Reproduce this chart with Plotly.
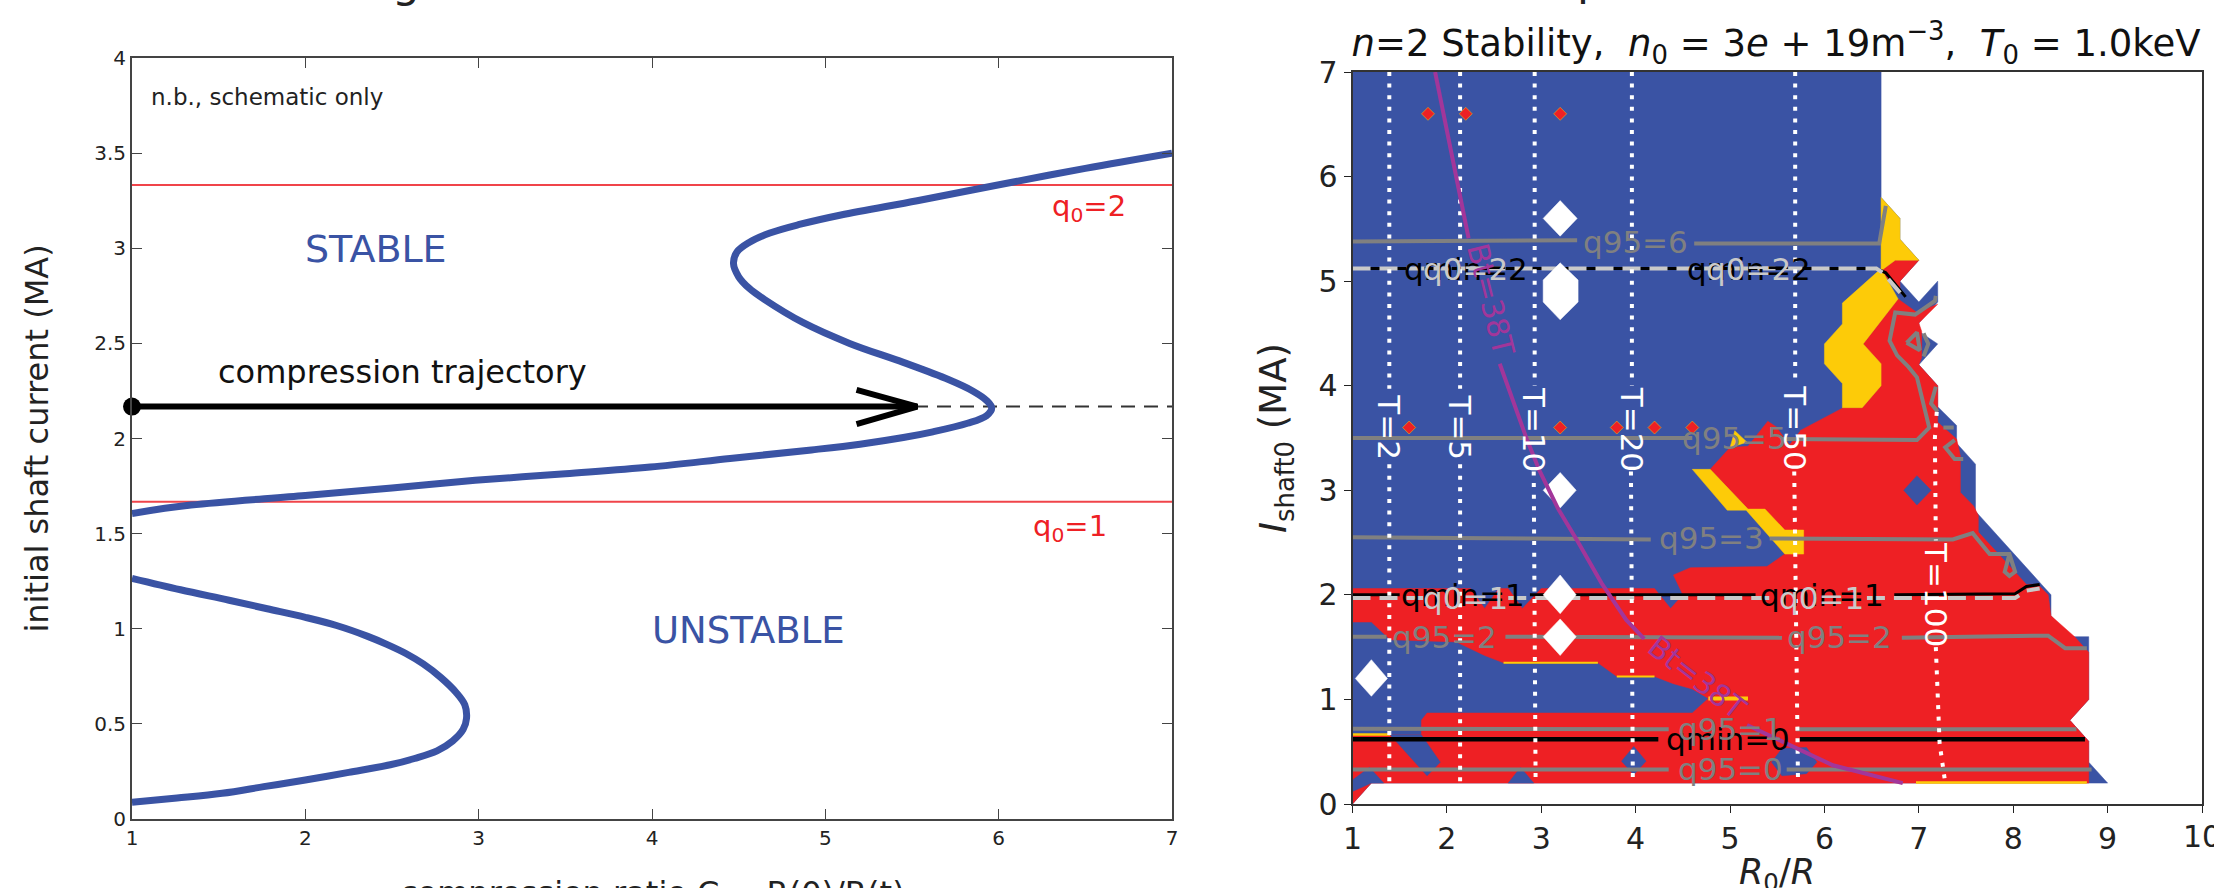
import plotly.graph_objects as go

# ---------- left panel data ----------
s_curve_x = [7,6.5,5.98,5.53,5.09,4.85,4.68,4.56,4.49,4.47,4.50,4.56,4.65,4.87,5.14,5.45,5.71,5.85,5.93,5.96,5.93,5.82,5.62,5.45,5.2,4.92,4.45,3.99,3.5,2.98,2.5,2.0,1.34,1]
s_curve_y = [3.5,3.42,3.33,3.25,3.175,3.125,3.08,3.03,2.98,2.92,2.85,2.79,2.73,2.61,2.5,2.4,2.31,2.25,2.2,2.16,2.12,2.08,2.035,2.005,1.97,1.94,1.895,1.85,1.815,1.78,1.74,1.70,1.65,1.606]
low_curve_x = [1,1.28,1.56,1.78,2.0,2.18,2.36,2.47,2.58,2.68,2.78,2.87,2.92,2.93,2.91,2.85,2.76,2.63,2.49,2.25,2.0,1.76,1.52,1.26,1]
low_curve_y = [1.265,1.205,1.15,1.105,1.06,1.017,.96,.918,.87,.815,.745,.665,.6,.53,.47,.41,.358,.318,.285,.245,.205,.17,.135,.11,.088]
q0_levels = [3.333, 1.667]
traj_y = 2.168
traj_end = 5.53
head_x = [5.18,5.53,5.18]
head_y = [2.256,2.168,2.075]

# ---------- right panel data ----------
domain_x = [1,6.6,6.6,6.8,6.8,7.0,6.8,7.0,7.2,7.2,7.0,7.0,7.2,7.0,7.2,7.2,7.4,7.4,7.6,7.6,8.3,8.4,8.4,8.6,8.8,8.8,8.6,8.8,8.8,9.0,1.2,1.0,1]
domain_y = [7,7,5.8,5.6,5.4,5.2,5.0,4.8,5.0,4.8,4.6,4.52,4.4,4.2,4.0,3.8,3.62,3.45,3.25,2.8,2.1,2.0,1.8,1.6,1.6,1.0,.8,.6,.4,.2,.2,0,7]

red_x = [1,2.25,2.4,2.55,2.65,2.8,3.0,4.2,4.37,4.5,4.4,4.58,5.39,5.58,5.19,4.79,5.0,5.19,5.4,5.5,5.63,5.74,6.2,6.4,6.6,6.6,6.41,6.78,6.98,7.2,7.0,7.03,7.03,7.0,7.2,7.2,7.2,7.4,7.44,7.44,7.58,7.63,7.63,8.14,8.26,8.37,8.4,8.65,8.8,8.8,8.6,8.8,8.8,1.2,1,1,1.73,1.73,1.79,4.6,4.77,4.6,4.4,4.2,3.8,3.6,2.6,2.4,2.1,1.4,1.2,1,1]
red_y = [2.06,2.06,1.87,2.06,2.06,1.87,2.06,2.06,1.87,2.0,2.19,2.26,2.27,2.39,2.82,3.2,3.41,3.42,3.66,3.6,3.44,3.57,3.79,3.79,4.0,4.21,4.4,4.83,4.7,4.78,4.6,4.52,4.27,4.2,4.0,3.8,3.65,3.49,3.33,2.98,2.85,2.76,2.6,2.1,2.1,2.0,1.8,1.6,1.45,1.0,.8,.6,.2,.2,0,.66,.66,.8,.87,.87,1.01,1.1,1.15,1.22,1.22,1.35,1.35,1.42,1.55,1.57,1.74,1.74,2.06]
red_patch_x = [6.6,6.75,7.0,6.8,6.8]
red_patch_y = [5.1,5.2,5.2,5.0,4.88]

yellow_top_x = [6.6,6.8,6.8,7.0,6.75,6.6,6.6]
yellow_top_y = [5.8,5.6,5.4,5.2,5.2,5.1,5.8]
yellow_mid_x = [6.6,6.78,6.41,6.6,6.6,6.4,6.19,6.19,6.0,6.0,6.19,6.19,6.6]
yellow_mid_y = [5.12,4.83,4.4,4.21,4.0,3.79,3.79,4.02,4.21,4.4,4.59,4.79,5.12]
yellow_low_x = [4.6,4.79,5.19,5.37,5.58,5.78,5.78,5.58,5.17,4.97,4.6]
yellow_low_y = [3.2,3.2,2.82,2.82,2.62,2.62,2.39,2.39,2.81,2.81,3.2]
yellow_tip_x = [5.0,5.18,5.05,5.0]
yellow_tip_y = [3.41,3.46,3.57,3.41]

blue_islands = [
    ([6.84,6.98,7.13,6.98,6.84],[3.0,3.14,3.0,2.86,3.0]),
    ([3.85,3.98,4.11,3.98,3.85],[.41,.55,.41,.28,.41]),
    ([5.44,5.55,5.81,5.92,5.81,5.55,5.44],[.40,.53,.54,.40,.29,.27,.40]),
    ([2.65,2.78,2.92,2.65],[.2,.35,.2,.2]),
    ([1.33,1.18,1.0,1.0,1.2,1.33],[.2,.35,.23,.12,.2,.2]),
    ([1.4,1.73,1.93,1.79,1.47,1.4],[.66,.66,.4,.27,.59,.66]),
    ([5.5,5.63,5.74,5.5],[3.6,3.44,3.57,3.6]),
]
holes = [
    ([3.02,3.2,3.38,3.2,3.02],[5.6,5.77,5.6,5.43,5.6]),
    ([3.02,3.2,3.39,3.39,3.2,3.02,3.02],[5.01,5.175,5.01,4.8,4.63,4.8,5.01]),
    ([3.02,3.2,3.37,3.2,3.02],[3.0,3.17,3.0,2.83,3.0]),
    ([3.02,3.2,3.37,3.2,3.02],[2.0,2.19,2.0,1.82,2.0]),
    ([3.02,3.2,3.37,3.2,3.02],[1.6,1.77,1.6,1.42,1.6]),
    ([1.03,1.2,1.37,1.2,1.03],[1.2,1.38,1.2,1.03,1.2]),
]
dot_x = [1.8,2.2,3.2,1.6,3.2,3.8,4.2,4.6]
dot_y = [6.6,6.6,6.6,3.6,3.6,3.6,3.6,3.6]

yellow_edges = [([2.6,3.6],[1.35,1.35],2),([3.8,4.2],[1.22,1.22],2),([4.77,5.19],[1.01,1.01],4),
                ([1,1.4],[.665,.665],2.5),([6.97,8.78],[.205,.205],2.5)]

grey_lines = [
    ([1,3.38,None,4.62,6.58,6.65],[5.38,5.39,None,5.36,5.36,5.72]),
    ([1,4.6,None,5.55,6.98,7.11,7.03,6.98,6.89,6.77,6.69,6.75,6.96,7.17,7.18],[3.5,3.5,None,3.49,3.48,3.6,3.92,4.08,4.18,4.29,4.43,4.7,4.68,4.81,4.86]),
    ([6.87,6.98,7.01,6.87],[4.41,4.51,4.34,4.41]),
    ([7.05,7.1,7.05],[4.5,4.4,4.28]),
    ([7.18,7.13,7.2],[3.99,3.83,3.75]),
    ([7.26,7.37],[3.6,3.6]),
    ([7.38,7.28,7.38,7.47],[3.48,3.41,3.3,3.3]),
    ([1,4.16,None,5.42,7.36,7.57,7.75,7.96,8.02,7.96,7.91,7.96],[2.55,2.53,None,2.54,2.53,2.59,2.39,2.39,2.22,2.18,2.22,2.39]),
    ([1,1.36,None,2.62,5.55,None,6.82,8.37,8.55,8.78],[1.6,1.6,None,1.6,1.59,None,1.59,1.61,1.49,1.49]),
    ([1,4.35,None,5.7,8.67],[.72,.716,None,.716,.716]),
    ([1,4.35,None,5.6,8.83],[.33,.33,None,.33,.33]),
]
black_lines = [
    ([1,4.24,None,5.74,8.76],[.62,.62,None,.62,.62],4.5),
    ([1,1.5,None,2.88,5.27,None,6.74,8.02,8.14,8.28],[2.0,2.0,None,2.0,2.0,None,2.0,2.01,2.08,2.1],3),
    ([1,6.55,6.65,6.86],[5.12,5.12,5.08,4.85],3),
]
q0_lines = [
    ([1,1.75,None,2.65,5.5,None,6.45,8.02,8.14,8.28],[1.97,1.97,None,1.97,1.97,None,1.97,1.97,2.04,2.06]),
    ([1,6.55,6.62,6.82],[5.12,5.12,5.08,4.87]),
]
t_lines = [
    ([1.39,1.39,None,1.39,1.39],[7,3.97,None,3.25,.2]),
    ([2.14,2.14,None,2.14,2.14],[7,3.97,None,3.25,.2]),
    ([2.93,2.93,None,2.92,2.94],[7,4.0,None,3.18,.2]),
    ([3.96,3.96,None,3.95,3.97],[7,4.0,None,3.18,.2]),
    ([5.69,5.69,None,5.68,5.72],[7,4.02,None,3.18,.2]),
    ([7.19,7.17,7.18,None,7.18,7.2,7.22,7.28],[3.75,3.5,2.52,None,1.5,1.02,.58,.2]),
]
bt_x = [1.875,2.23,None,2.56,2.85,2.98,3.18,3.38,3.64,3.9,4.09,None,5.18,5.74,6.09,6.83]
bt_y = [7,5.41,None,4.21,3.48,3.19,2.82,2.52,2.11,1.76,1.58,None,.755,.52,.37,.2]

grey_labels = [("q95=6",4.0,5.37),("q95=5",5.05,3.5),("q95=3",4.8,2.54),("q95=2",1.97,1.6),
               ("q95=2",6.16,1.6),("q95=1",5.0,.72),("q95=0",5.0,.33)]
black_labels = [("qmin=0",4.98,.62),("qmin=1",2.17,2.0),("qmin=1",5.97,2.0),("qmin=2",2.2,5.12),("qmin=2",5.2,5.12)]
q0_labels = [("q0=1",2.2,1.97),("q0=1",5.97,1.97),("q0=2",2.2,5.12),("q0=2",5.2,5.12)]
t_labels = [("T=2",1.39,3.6),("T=5",2.14,3.6),("T=10",2.93,3.58),("T=20",3.96,3.58),("T=50",5.69,3.6),("T=100",7.18,2.0)]
bt_labels = [("Bt=38T",2.46,4.82,76),("Bt=38T",4.65,1.21,38)]

BLUE="#3a53a4"; RED="#ee2024"; YEL="#fdcb08"; GREY="#808080"; LGREY="#c9c9c9"; PUR="#a2369a"
FONT="DejaVu Sans"
fig = go.Figure()
def line(x,y,color,width,ax=1,dash=None):
    fig.add_trace(go.Scatter(x=x,y=y,mode="lines",line=dict(color=color,width=width,dash=dash),
        xaxis="x" if ax==1 else "x2",yaxis="y" if ax==1 else "y2",showlegend=False,hoverinfo="skip"))
def poly(x,y,color):
    fig.add_trace(go.Scatter(x=x,y=y,mode="lines",fill="toself",fillcolor=color,line=dict(color=color,width=0.5),
        xaxis="x2",yaxis="y2",showlegend=False,hoverinfo="skip"))

# left panel
for lv in q0_levels:
    line([1,7],[lv,lv],"#f0444a",2)
line([1,7],[traj_y,traj_y],"#333333",2,dash="14px,9px")
line([1,traj_end],[traj_y,traj_y],"black",6)
line(head_x,head_y,"black",6)
fig.add_trace(go.Scatter(x=[1],y=[traj_y],mode="markers",marker=dict(color="black",size=18),cliponaxis=False,showlegend=False,hoverinfo="skip"))
fig.add_trace(go.Scatter(x=s_curve_x,y=s_curve_y,mode="lines",line=dict(color=BLUE,width=7,shape="spline",smoothing=1.0),showlegend=False,hoverinfo="skip"))
fig.add_trace(go.Scatter(x=low_curve_x,y=low_curve_y,mode="lines",line=dict(color=BLUE,width=7,shape="spline",smoothing=1.0),showlegend=False,hoverinfo="skip"))

# right panel
poly(domain_x,domain_y,BLUE)
poly(red_x,red_y,RED)
poly(red_patch_x,red_patch_y,RED)
for px,py in [(yellow_top_x,yellow_top_y),(yellow_mid_x,yellow_mid_y),(yellow_low_x,yellow_low_y),(yellow_tip_x,yellow_tip_y)]:
    poly(px,py,YEL)
for px,py in blue_islands:
    poly(px,py,BLUE)
for ex,ey,w in yellow_edges:
    line(ex,ey,YEL,w,2)
for bx,by,w in black_lines:
    line(bx,by,"black",w,2)
for qx,qy in q0_lines:
    line(qx,qy,LGREY,4,2,dash="18px,9px")
for gx,gy in grey_lines:
    line(gx,gy,GREY,4,2)
for px,py in holes:
    poly(px,py,"white")
for tx,ty in t_lines:
    line(tx,ty,"white",4,2,dash="4px,7.6px")
line(bt_x,bt_y,PUR,4,2)
fig.add_trace(go.Scatter(x=dot_x,y=dot_y,mode="markers",marker=dict(symbol="diamond",color=RED,size=10,line=dict(color=YEL,width=0.5)),
    xaxis="x2",yaxis="y2",showlegend=False,hoverinfo="skip"))

ann=[]
def txt(t,x,y,size,color,ax=1,angle=0,xanchor="center"):
    ann.append(dict(text=t,x=x,y=y,xref="x" if ax==1 else "x2",yref="y" if ax==1 else "y2",showarrow=False,
        font=dict(family=FONT,size=size,color=color),textangle=angle,xanchor=xanchor,yanchor="middle"))
txt("n.b., schematic only",1.1,3.795,23,"#222222",xanchor="left")
txt("STABLE",1.0+(376-132)/173.3,(819-249)/190.25,38,BLUE)
txt("UNSTABLE",1.0+(748-132)/173.3,(819-630)/190.25,37,BLUE)
txt("compression trajectory",1.0+(402-132)/173.3,(819-372)/190.25,32,"#111111")
txt("q<sub>0</sub>=2",6.52,3.21,29,"#ee2024")
txt("q<sub>0</sub>=1",6.41,1.53,29,"#ee2024")
for t,x,y in black_labels: txt(t,x,y,31,"black",2)
for t,x,y in q0_labels: txt(t,x,y,31,LGREY,2)
for t,x,y in grey_labels: txt(t,x,y,31,GREY,2)
for t,x,y in t_labels: txt(t,x,y,31,"white",2,angle=90)
for t,x,y,a in bt_labels: txt(t,x,y,30,PUR,2,angle=a)
# the last x tick label, cut by the page edge as in the reference
ann.append(dict(text="10",x=10,y=0,xref="x2",yref="y2",yshift=-32,showarrow=False,
    font=dict(family=FONT,size=30,color="#222222"),xanchor="center",yanchor="middle"))
# x titles, placed so the page edge crops them as in the reference
ann.append(dict(text="compression ratio C = R(0)/R(t)",x=4,y=0,xref="x",yref="y",yshift=-74,showarrow=False,
    font=dict(family=FONT,size=32,color="#222222"),xanchor="center",yanchor="middle"))
ann.append(dict(text="<i>R</i><sub>0</sub>/<i>R</i>",x=5.5,y=0,xref="x2",yref="y2",yshift=-70,showarrow=False,
    font=dict(family=FONT,size=35,color="#222222"),xanchor="center",yanchor="middle"))
# descenders of the heading that the crop cuts off
ann.append(dict(text="g",x=2.581,y=4,xref="x",yref="y",yshift=77,showarrow=False,
    font=dict(family=FONT,size=44,color="#222222"),xanchor="center",yanchor="middle"))
ann.append(dict(text="p",x=3.526,y=7,xref="x2",yref="y2",yshift=92,showarrow=False,
    font=dict(family=FONT,size=44,color="#222222"),xanchor="center",yanchor="middle"))

axfont=dict(family=FONT,color="#222222")
fig.update_layout(
    width=2214,height=888,autosize=False,margin=dict(l=0,r=0,t=0,b=0,pad=0),
    paper_bgcolor="white",plot_bgcolor="white",showlegend=False,annotations=ann,
    title=dict(text="<i>n</i>=2 Stability,&nbsp;&nbsp;<i>n</i><sub>0</sub> = 3<i>e</i> + 19m<sup>−3</sup>,&nbsp;&nbsp;<i>T</i><sub>0</sub> = 1.0keV",
        x=1776/2214,xanchor="center",y=1-43/888,yanchor="middle",font=dict(family=FONT,size=37,color="#111111")),
    xaxis=dict(domain=[132/2214,1172/2214],range=[1,7],tickvals=[1,2,3,4,5,6,7],ticks="inside",ticklen=10,tickcolor="#444",
        showline=True,linecolor="#444",linewidth=2,mirror="ticks",showgrid=False,zeroline=False,automargin=False,
        tickfont=dict(size=20,**axfont),anchor="y"),
    yaxis=dict(domain=[69/888,830/888],range=[0,4],tickvals=[0,.5,1,1.5,2,2.5,3,3.5,4],ticktext=["0","0.5","1","1.5","2","2.5","3","3.5","4"],
        ticks="inside",ticklen=10,tickcolor="#444",showline=True,linecolor="#444",linewidth=2,mirror="ticks",showgrid=False,zeroline=False,automargin=False,
        tickfont=dict(size=20,**axfont),anchor="x",
        title=dict(text="initial shaft current (MA)",font=dict(size=32,**axfont),standoff=36)),
    xaxis2=dict(domain=[1352.5/2214,2202/2214],range=[1,10],tickvals=list(range(1,11)),ticks="outside",ticklen=7,tickcolor="#222",
        showline=True,linecolor="#333",linewidth=2,mirror=True,showgrid=False,zeroline=False,automargin=False,
        tickfont=dict(size=30,**axfont),anchor="y2"),
    yaxis2=dict(domain=[84/888,816/888],range=[0,7],tickvals=list(range(0,8)),ticks="outside",ticklen=7,tickcolor="#222",
        showline=True,linecolor="#333",linewidth=2,mirror=True,showgrid=False,zeroline=False,automargin=False,
        tickfont=dict(size=30,**axfont),anchor="x2",
        title=dict(text="<i>I</i><sub>shaft0</sub> (MA)",font=dict(size=37,**axfont),standoff=20)),
)
fig.write_html("out.html",config=dict(displayModeBar=False),post_script="document.body.style.margin='0';")
